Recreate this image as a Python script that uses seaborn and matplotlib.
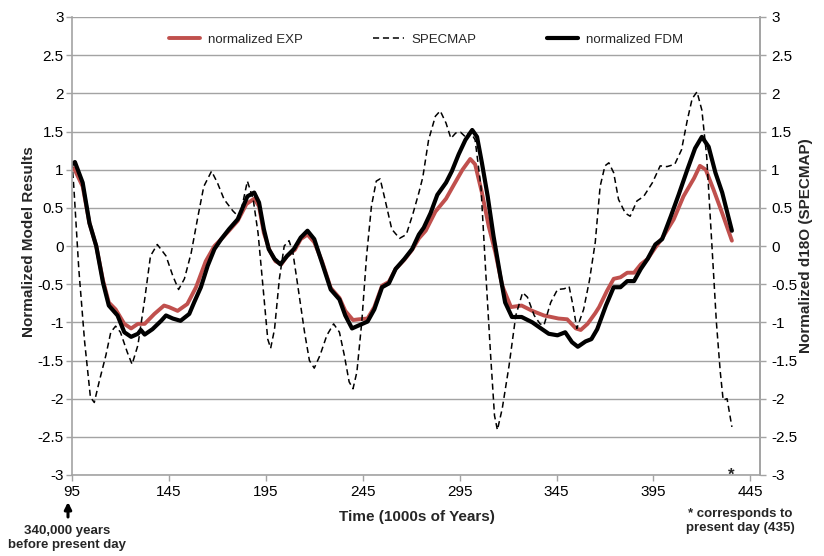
import matplotlib
matplotlib.use("Agg")
import matplotlib.pyplot as plt
import seaborn as sns

# Time in 1000s of years (95 = 340,000 years before present, 435 = present day)
# values
exp_time = [95, 96, 100.5, 104, 107.5, 111, 114, 117.5, 122, 125.5, 129, 132.5, 137.5, 142.5, 145,
            149.5, 154.5, 159, 164, 168.5, 172, 176, 180.5, 185, 189, 191.5, 194, 197, 200, 203,
            206, 210, 213, 216.5, 220, 224, 228.5, 233, 236, 240, 243, 247.5, 251, 255, 258.5,
            262, 266.5, 270.5, 274, 277.5, 282.5, 288, 292, 296.5, 300.5, 303, 306.5, 310, 313.5,
            317, 321.5, 327, 332.5, 338.5, 346, 350.5, 355, 357.5, 361, 365, 367, 371, 374.5, 378,
            381.5, 385, 388.5, 392, 396, 399.5, 405.5, 410.5, 416, 419, 422, 426, 430.5, 435.5]
exp_vals = [1.0, 1.02, 0.78, 0.30, 0.0, -0.45, -0.74, -0.83, -1.02, -1.08, -1.02, -1.02, -0.89, -0.78,
            -0.80, -0.85, -0.76, -0.54, -0.20, 0.0, 0.09, 0.20, 0.33, 0.55, 0.62, 0.52, 0.17, -0.06,
            -0.20, -0.24, -0.13, -0.05, 0.09, 0.15, 0.05, -0.20, -0.55, -0.68, -0.85, -0.97, -0.96,
            -0.95, -0.80, -0.52, -0.47, -0.30, -0.18, -0.05, 0.10, 0.20, 0.45, 0.62, 0.80, 1.0, 1.14,
            1.07, 0.70, 0.26, -0.09, -0.52, -0.80, -0.78, -0.85, -0.91, -0.95, -0.96, -1.08, -1.10,
            -1.02, -0.88, -0.80, -0.59, -0.43, -0.41, -0.35, -0.35, -0.24, -0.17, -0.02, 0.10, 0.35,
            0.65, 0.89, 1.05, 1.0, 0.74, 0.43, 0.07]

fdm_time = [95, 96.5, 100.5, 104, 107.5, 111, 114, 118.5, 122, 125.5, 129, 130.5, 132.5, 136.5, 141,
            143.5, 147, 151, 155.5, 158, 161.5, 165, 168.5, 172, 176, 180.5, 185.5, 189, 191.5, 194,
            196.5, 199.5, 202.5, 206, 209.5, 213, 216.5, 220, 224, 228.5, 233, 236, 239.5, 243,
            247.5, 251, 255, 258.5, 262, 266.5, 270.5, 274, 276.5, 280, 283.5, 288, 291, 294.5, 298,
            301.5, 304, 306.5, 309.5, 312.5, 316, 318.5, 322, 327, 332.5, 337, 341, 345.5, 349.5,
            353, 356, 360, 363, 366, 370.5, 374.5, 378, 381.5, 385, 388.5, 392, 396, 399.5, 404,
            408, 412.5, 416.5, 420, 423.5, 427, 430.5, 435.5]
fdm_vals = [1.07, 1.10, 0.83, 0.30, 0.0, -0.48, -0.78, -0.91, -1.13, -1.19, -1.15, -1.10, -1.16, -1.09,
            -0.98, -0.91, -0.95, -0.98, -0.89, -0.74, -0.54, -0.26, -0.04, 0.09, 0.22, 0.35, 0.65,
            0.70, 0.57, 0.22, -0.04, -0.17, -0.24, -0.13, -0.04, 0.11, 0.20, 0.09, -0.22, -0.57,
            -0.70, -0.91, -1.08, -1.04, -0.99, -0.83, -0.54, -0.49, -0.30, -0.17, -0.04, 0.15, 0.24,
            0.43, 0.67, 0.83, 0.98, 1.20, 1.39, 1.52, 1.43, 1.09, 0.65, 0.13, -0.39, -0.74, -0.93,
            -0.93, -1.0, -1.08, -1.15, -1.17, -1.13, -1.26, -1.32, -1.25, -1.22, -1.09, -0.78, -0.54,
            -0.54, -0.46, -0.46, -0.30, -0.17, 0.02, 0.09, 0.39, 0.67, 1.0, 1.28, 1.43, 1.30, 0.96,
            0.70, 0.20]

specmap_time = [95, 96, 98.5, 101.5, 104.5, 106.5, 109, 112.5, 115, 117.5, 120, 123.5, 126, 129,
                132.5, 135.5, 139, 143.5, 147, 150, 153, 156.5, 160, 163, 167, 170, 173.5, 178,
                181.5, 185.5, 188.5, 191, 193.5, 196, 197.5, 199.5, 202, 204.5, 207, 209, 211.5,
                215, 217.5, 220, 223, 226.5, 230, 233, 235.5, 238, 240, 242, 244.5, 247, 249.5,
                252, 254, 256.5, 260, 264, 267.5, 271, 274, 276, 279, 282.5, 285, 288, 290.5, 293,
                295.5, 298, 300.5, 303, 306, 308.5, 311, 313, 314.5, 317, 320.5, 324, 327.5, 330,
                333.5, 336.5, 338.5, 342, 345.5, 349, 351.5, 353.5, 355.5, 359, 362, 365, 367.5,
                370, 372, 374.5, 377, 380.5, 383, 386.5, 390, 394.5, 398.5, 402, 406, 409.5, 412.5,
                415, 417.5, 420, 422.5, 425, 427.5, 429.5, 431, 433, 435.5]
specmap_vals = [1.1, 0.75, -0.3, -1.25, -1.98, -2.05, -1.78, -1.43, -1.13, -1.05, -1.13, -1.39, -1.55,
                -1.30, -0.70, -0.13, 0.02, -0.13, -0.39, -0.57, -0.43, -0.09, 0.39, 0.78, 0.98, 0.83,
                0.61, 0.46, 0.37, 0.85, 0.61, 0.17, -0.52, -1.22, -1.34, -1.09, -0.43, 0.0, 0.07,
                -0.09, -0.52, -1.13, -1.50, -1.60, -1.43, -1.17, -1.02, -1.13, -1.43, -1.78, -1.87,
                -1.65, -1.0, -0.13, 0.52, 0.85, 0.88, 0.61, 0.22, 0.10, 0.15, 0.43, 0.70, 0.90, 1.39,
                1.70, 1.77, 1.61, 1.41, 1.48, 1.49, 1.43, 1.50, 1.39, 0.78, -0.35, -1.43, -2.22,
                -2.41, -2.13, -1.57, -0.91, -0.61, -0.67, -0.91, -1.02, -1.04, -0.74, -0.57, -0.56,
                -0.53, -0.78, -1.08, -0.83, -0.45, 0.05, 0.78, 1.05, 1.09, 0.96, 0.61, 0.43, 0.39,
                0.59, 0.65, 0.83, 1.05, 1.04, 1.07, 1.26, 1.65, 1.93, 2.02, 1.78, 1.17, 0.09, -1.0,
                -1.65, -2.02, -2.0, -2.37]

x_ticks = [95, 145, 195, 245, 295, 345, 395, 445]
y_ticks = [-3, -2.5, -2, -1.5, -1, -0.5, 0, 0.5, 1, 1.5, 2, 2.5, 3]
y_labels = [f"{v:g}" for v in y_ticks]

sns.set_theme(style="white")
plt.rcParams["font.family"] = ["Liberation Sans", "DejaVu Sans"]

GRAY = "#A3A3A3"
RED = "#C0504D"

fig = plt.figure(figsize=(8.24, 5.56), dpi=100)
ax = fig.add_axes([72 / 824, 1 - 475 / 556, 688 / 824, 458 / 556])

sns.lineplot(x=exp_time, y=exp_vals, ax=ax, color=RED, linewidth=2.8,
             solid_joinstyle="round", label="normalized EXP")
sns.lineplot(x=specmap_time, y=specmap_vals, ax=ax, color="black", linewidth=1.1,
             linestyle=(0, (4, 2.5)), label="SPECMAP")
sns.lineplot(x=fdm_time, y=fdm_vals, ax=ax, color="black", linewidth=3.0,
             solid_joinstyle="round", label="normalized FDM")

ax.set_xlim(95, 450)
ax.set_ylim(-3, 3)
ax.set_xticks(x_ticks)
ax.set_yticks(y_ticks)
ax.set_yticklabels(y_labels)
ax.grid(axis="y", color=GRAY, linewidth=1.0)
ax.grid(axis="x", visible=False)
ax.set_axisbelow(True)
for side in ["left", "bottom", "right"]:
    ax.spines[side].set_color(GRAY)
    ax.spines[side].set_linewidth(1.2)
ax.spines["top"].set_visible(False)
ax.tick_params(axis="both", bottom=True, left=True, direction="out", length=4, width=1,
               color=GRAY, labelsize=11, labelcolor="black")
ax.tick_params(axis="x", pad=3)
ax.tick_params(axis="y", pad=2)

ax.set_xlabel("Time (1000s of Years)", fontsize=11, fontweight="bold")
ax.xaxis.set_label_coords(0.501, -0.091)
ax.xaxis.label.set_va("center")
ax.set_ylabel("Normalized Model Results", fontsize=11, fontweight="bold")
ax.yaxis.set_label_coords(-0.063, 0.51)
ax.yaxis.label.set_va("center")

# right axis: same scale, for the SPECMAP d18O values
ax2 = ax.twinx()
ax2.set_ylim(-3, 3)
ax2.set_yticks(y_ticks)
ax2.set_yticklabels(y_labels)
ax2.grid(False)
for side in ["left", "top", "bottom"]:
    ax2.spines[side].set_visible(False)
ax2.spines["right"].set_color(GRAY)
ax2.spines["right"].set_linewidth(1.2)
ax2.tick_params(axis="y", right=True, direction="out", length=4, width=1, color=GRAY,
                labelsize=11, labelcolor="black", pad=4)
ax2.set_ylabel("Normalized d18O (SPECMAP)", fontsize=11, fontweight="bold")
ax2.yaxis.set_label_coords(1.067, 0.5)
ax2.yaxis.label.set_va("center")

ax.legend(ncol=3, loc="center", bbox_to_anchor=(0.5145, 0.95), frameon=False, fontsize=9.5,
          handlelength=2.35, handletextpad=0.6, columnspacing=5.3)

# notes below the axis
ax.text(435, -3, "*", ha="center", va="center", fontsize=12, fontweight="bold", clip_on=False)
ax.annotate("", xy=(68, 556 - 502), xytext=(68, 556 - 517), xycoords="figure pixels",
            textcoords="figure pixels",
            arrowprops=dict(arrowstyle="-|>", color="black", lw=2.2, mutation_scale=10,
                            shrinkA=0, shrinkB=0))
fig.text(67 / 824, 1 - 538 / 556, "340,000 years\nbefore present day", ha="center", va="center",
         fontsize=9.5, fontweight="bold", linespacing=1.15)
fig.text(740 / 824, 1 - 521 / 556, "* corresponds to\npresent day (435)", ha="center", va="center",
         fontsize=9.5, fontweight="bold", linespacing=1.15)

fig.savefig("out.png", dpi=100)
